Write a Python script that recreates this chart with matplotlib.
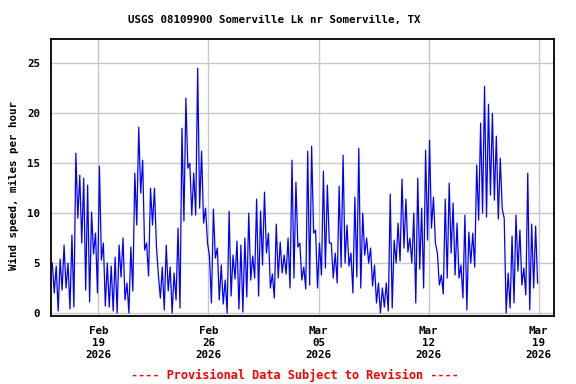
import numpy as np
import pandas as pd
import matplotlib
matplotlib.use("Agg")
import matplotlib.pyplot as plt

# Wind speed, in 6-hour bins starting 2026-02-16 00:00
# each bin keeps the high and low of the trace within it (mph)
wind_hi = [5.0, 4.7, 5.4, 6.8, 5.0, 7.8, 16.0, 13.8, 13.5, 12.8,
           10.1, 8.0, 14.7, 7.0, 5.0, 4.7, 5.6, 6.8, 7.5, 3.0,
           6.6, 14.0, 18.6, 15.3, 7.0, 12.5, 12.5, 3.8, 4.6, 6.8,
           4.6, 4.0, 8.5, 18.5, 21.5, 15.0, 14.0, 24.5, 16.2, 10.5,
           5.7, 10.4, 6.5, 4.8, 3.3, 10.2, 5.8, 7.2, 6.8, 7.5,
           10.0, 5.7, 11.4, 10.2, 12.1, 8.0, 3.9, 8.9, 7.1, 5.8,
           7.5, 15.3, 13.1, 7.0, 4.6, 16.2, 16.7, 8.3, 7.0, 14.2,
           12.8, 7.0, 6.0, 12.7, 15.8, 8.8, 6.0, 11.6, 16.5, 10.0,
           7.5, 6.5, 4.8, 3.0, 2.5, 3.0, 11.9, 7.3, 9.0, 13.4,
           11.4, 7.5, 10.0, 13.5, 10.5, 16.3, 17.3, 11.6, 6.0, 3.8,
           11.4, 13.0, 11.0, 9.0, 4.8, 9.8, 8.1, 8.0, 14.8, 19.0,
           22.7, 20.9, 20.0, 17.7, 15.5, 9.5, 4.0, 7.7, 9.8, 8.3,
           4.5, 14.0, 8.9, 8.7]
wind_lo = [2.0, 0.2, 2.3, 2.5, 0.4, 0.6, 9.5, 7.0, 2.3, 1.1,
           5.9, 2.0, 5.3, 0.7, 0.6, 0.2, 0.0, 3.6, 1.3, 0.0,
           2.2, 8.8, 12.0, 6.3, 3.7, 8.8, 6.7, 1.5, 0.3, 2.2,
           0.0, 1.3, 0.5, 9.2, 14.5, 9.8, 9.8, 10.5, 9.0, 7.0,
           1.0, 5.5, 1.3, 0.9, 0.0, 1.7, 3.4, 0.4, 0.1, 1.6,
           3.3, 3.5, 1.7, 4.8, 6.0, 2.5, 1.5, 3.5, 4.0, 3.9,
           2.5, 3.5, 6.6, 3.3, 2.4, 2.8, 8.0, 2.5, 3.8, 4.5,
           7.0, 3.5, 3.0, 4.6, 5.0, 4.7, 2.0, 3.6, 2.5, 5.8,
           5.0, 2.7, 1.0, 0.0, 0.6, 0.2, 0.5, 5.0, 5.2, 6.5,
           6.1, 5.0, 1.0, 4.4, 2.5, 7.3, 8.5, 7.0, 2.8, 1.9,
           3.5, 6.0, 3.8, 3.5, 1.5, 0.3, 5.0, 4.6, 9.3, 10.0,
           9.6, 11.8, 11.3, 9.4, 10.4, 0.0, 0.5, 1.0, 4.2, 2.8,
           1.8, 0.3, 2.5, 3.0]

tick_days = ["2026-02-19", "2026-02-26", "2026-03-05", "2026-03-12", "2026-03-19"]
tick_labels = ["Feb\n19\n2026", "Feb\n26\n2026", "Mar\n05\n2026", "Mar\n12\n2026", "Mar\n19\n2026"]

# interleave high/low within each bin at 3-hour spacing
start = pd.Timestamp("2026-02-16 01:30")
times = pd.date_range(start, periods=2 * len(wind_hi), freq="3h")
values = np.empty(2 * len(wind_hi))
values[0::2] = wind_hi
values[1::2] = wind_lo

font = "DejaVu Sans Mono"
fig = plt.figure(figsize=(5.76, 3.84), dpi=100)
ax = fig.add_axes([51.3 / 576, 1 - 316 / 384, 503 / 576, 276.7 / 384])

ax.plot(times, values, color="#0000ff", linewidth=0.9)

ax.set_xlim(pd.Timestamp("2026-02-16"), pd.Timestamp("2026-03-20"))
ax.set_ylim(-0.3, 27.4)
ax.set_yticks([0, 5, 10, 15, 20, 25])
ax.set_xticks(pd.to_datetime(tick_days))
ax.set_xticklabels(tick_labels, linespacing=1.25)
ax.grid(True, color="#c8c8c8", linewidth=1.0)
ax.set_axisbelow(True)
ax.tick_params(length=0, pad=7)
ax.tick_params(axis="y", pad=8)
for lab in ax.get_xticklabels() + ax.get_yticklabels():
    lab.set_fontfamily(font)
    lab.set_fontweight("bold")
    lab.set_fontsize(7.8)
for s in ax.spines.values():
    s.set_linewidth(1.3)
    s.set_color("black")

fig.text(274 / 576, 1 - 20 / 384, "USGS 08109900 Somerville Lk nr Somerville, TX",
         ha="center", va="center", fontfamily=font, fontweight="bold", fontsize=7.8)
fig.text(14 / 576, 1 - 186 / 384, "Wind speed, miles per hour", rotation=90,
         ha="center", va="center", fontfamily=font, fontweight="bold", fontsize=7.8)
fig.text(295 / 576, 1 - 375 / 384, "---- Provisional Data Subject to Revision ----",
         ha="center", va="center", fontfamily=font, fontweight="bold", fontsize=8.6, color="red")

fig.savefig("out.png", dpi=100)
